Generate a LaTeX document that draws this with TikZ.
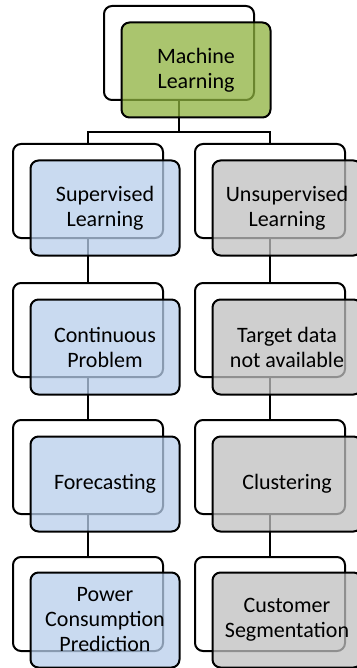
\documentclass[tikz,border=0pt]{standalone}
\usepackage{fontspec}
\setmainfont{Carlito}
\definecolor{mlgreen}{RGB}{142,178,62}
\definecolor{supblue}{RGB}{184,206,235}
\definecolor{unsgray}{RGB}{192,192,192}
\begin{document}
\begin{tikzpicture}[x=1pt,y=-1pt,
  backbox/.style={draw=black, line width=2pt, fill=white, rounded corners=8pt,
    minimum width=150pt, minimum height=94pt, inner sep=0pt},
  frontbox/.style={draw=black, line width=2pt, rounded corners=8pt,
    minimum width=149pt, minimum height=95pt, inner sep=0pt,
    fill opacity=0.75, text opacity=1, align=center,
    font=\fontsize{22}{25}\selectfont},
  link/.style={draw=black, line width=2pt},
]
\useasboundingbox (0,0) rectangle (356,668);
% back boxes
\node[backbox] (mlb) at (179,53) {};
\node[backbox] (sb) at (88,191) {};
\node[backbox] (ub) at (270,191) {};
\node[backbox] (cb) at (88,330) {};
\node[backbox] (tb) at (270,330) {};
\node[backbox] (fb) at (88,467) {};
\node[backbox] (clb) at (270,467) {};
\node[backbox] (pb) at (88,604) {};
\node[backbox] (csb) at (270,604) {};
% connectors
\coordinate (split) at (179,132);
\draw[link] (mlb.south) -- (split);
\draw[link] (sb.north) |- (split) -| (ub.north);
\draw[link] (sb.south) -- (cb.north);
\draw[link] (cb.south) -- (fb.north);
\draw[link] (fb.south) -- (pb.north);
\draw[link] (ub.south) -- (tb.north);
\draw[link] (tb.south) -- (clb.north);
\draw[link] (clb.south) -- (csb.north);
% front boxes
\node[frontbox, fill=mlgreen] (ml) at (196,70) {Machine\\Learning};
\node[frontbox, fill=supblue] (s) at (105,208) {Supervised\\Learning};
\node[frontbox, fill=unsgray] (u) at (287,208) {Unsupervised\\Learning};
\node[frontbox, fill=supblue] (c) at (105,347) {Continuous\\Problem};
\node[frontbox, fill=unsgray] (t) at (287,347) {Target data\\not available};
\node[frontbox, fill=supblue] (f) at (105,484) {Forecasting};
\node[frontbox, fill=unsgray] (cl) at (287,484) {Clustering};
\node[frontbox, fill=supblue] (p) at (105,620) {Power\\Consumption\\Prediction};
\node[frontbox, fill=unsgray] (cs) at (287,620) {Customer\\Segmentation};
\end{tikzpicture}
\end{document}
